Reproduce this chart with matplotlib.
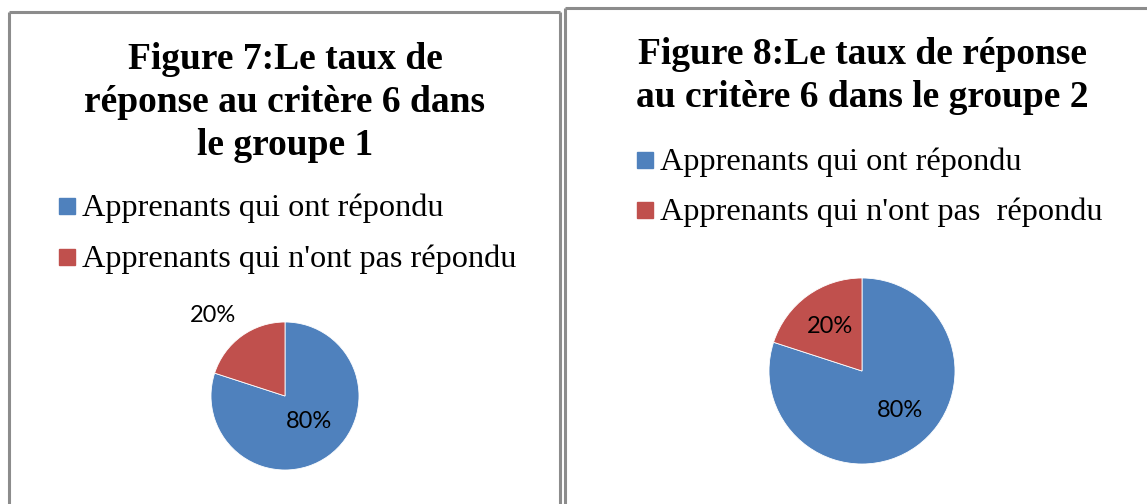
import numpy as np
import matplotlib.pyplot as plt
from matplotlib.lines import Line2D

W, H = 1147, 504

labels = ["Apprenants qui ont répondu", "Apprenants qui n'ont pas répondu"]
labels2 = ["Apprenants qui ont répondu", "Apprenants qui n'ont pas  répondu"]
values1 = [80, 20]
values2 = [80, 20]
colors = ["#4F81BD", "#C0504D"]
title1 = ["Figure 7:Le taux de", "réponse au critère 6 dans", "le groupe 1"]
title2 = ["Figure 8:Le taux de réponse", "au critère 6 dans le groupe 2"]

serif = "Liberation Serif"
pctfont = "Lato"


def fx(x):
    return x / W


def fy(y):
    return 1 - y / H


fig = plt.figure(figsize=(W / 100, H / 100), dpi=100)

# panel borders
border = dict(color="#8c8c8c", lw=2.2, solid_capstyle="butt")
for xs, ys in [([9, 9], [11.5, H]), ([9, 560], [11.5, 11.5]), ([560, 560], [11.5, H]),
               ([565, 565], [8, H]), ([565, W], [8, 8])]:
    fig.add_artist(Line2D([fx(v) for v in xs], [fy(v) for v in ys],
                          transform=fig.transFigure, **border))


def draw_panel(cx_title, title, title_base, title_step,
               leg_x, leg_y, leg_step, leg_labels,
               pie_c, pie_r, values, pct_dist):
    for i, line in enumerate(title):
        fig.text(fx(cx_title), fy(title_base + i * title_step), line,
                 fontfamily=serif, fontweight="bold", fontsize=27,
                 ha="center", va="baseline")
    for i, lab in enumerate(leg_labels):
        yc = leg_y + i * leg_step
        fig.patches.append(plt.Rectangle((fx(leg_x - 8), fy(yc + 8)), 16 / W, 16 / H,
                                         transform=fig.transFigure, color=colors[i]))
        fig.text(fx(leg_x + 15), fy(yc + 10), lab, fontfamily=serif,
                 fontsize=23.2, ha="left", va="baseline")

    cx, cy = pie_c
    ax = fig.add_axes([fx(cx - pie_r), fy(cy + pie_r), 2 * pie_r / W, 2 * pie_r / H])
    wedges, _ = ax.pie(values, colors=colors, startangle=90, counterclock=False,
                       wedgeprops=dict(edgecolor="white", linewidth=0.6))
    ax.set_xlim(-1, 1)
    ax.set_ylim(-1, 1)
    ax.set_aspect("equal")
    ax.axis("off")
    total = sum(values)
    for w, v, d in zip(wedges, values, pct_dist):
        ang = np.deg2rad((w.theta1 + w.theta2) / 2)
        ax.text(d[0] * np.cos(ang + np.deg2rad(d[1])), d[0] * np.sin(ang + np.deg2rad(d[1])),
                f"{v / total * 100:.0f}%", ha="center", va="center",
                fontfamily=pctfont, fontsize=17, clip_on=False)


draw_panel(285, title1, 69, 43, 67, 206, 51, labels,
           (285, 396), 74, values1, [(0.47, 8), (1.46, 6)])
draw_panel(862, title2, 64, 43, 645, 160, 50, labels2,
           (862, 371), 93, values2, [(0.59, 8), (0.59, 0)])

fig.savefig("out.png", dpi=100)
